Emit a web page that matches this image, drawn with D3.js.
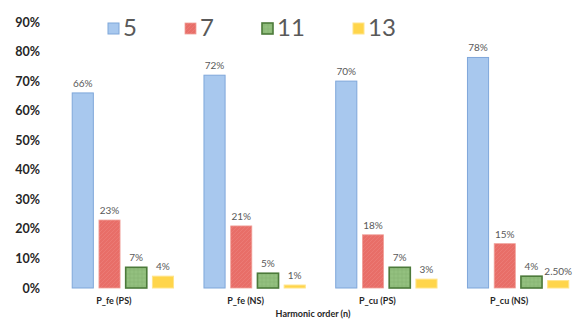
<!DOCTYPE html>
<html>
<head>
<meta charset="utf-8">
<script src="https://cdn.jsdelivr.net/npm/d3@7"></script>
<style>
  html, body { margin: 0; padding: 0; background: #fff; }
  svg { display: block; }
</style>
</head>
<body>
<svg id="chart" width="576" height="320"></svg>
<script>
// Harmonic share per loss component
const categories = ["P_fe (PS)", "P_fe (NS)", "P_cu (PS)", "P_cu (NS)"];
const seriesNames = ["5", "7", "11", "13"];
const h5  = [0.66, 0.72, 0.70, 0.78];
const h7  = [0.23, 0.21, 0.18, 0.15];
const h11 = [0.07, 0.05, 0.07, 0.04];
const h13 = [0.04, 0.01, 0.03, 0.025];
const valueLabels = [
  ["66%", "72%", "70%", "78%"],
  ["23%", "21%", "18%", "15%"],
  ["7%", "5%", "7%", "4%"],
  ["4%", "1%", "3%", "2.50%"]
];
const yTicks = [0, 0.1, 0.2, 0.3, 0.4, 0.5, 0.6, 0.7, 0.8, 0.9];
const xTitle = "Harmonic order (n)";

const seriesValues = [h5, h7, h11, h13];

const svg = d3.select("#chart");

// Fill patterns for the textured series
const defs = svg.append("defs");
const red = defs.append("pattern").attr("id", "pat7")
  .attr("patternUnits", "userSpaceOnUse").attr("width", 4).attr("height", 4);
red.append("rect").attr("width", 4).attr("height", 4).attr("fill", "#e86e68");
red.append("path").attr("d", "M0,4 L4,0").attr("stroke", "#ec837d").attr("stroke-width", 0.6);

const green = defs.append("pattern").attr("id", "pat11")
  .attr("patternUnits", "userSpaceOnUse").attr("width", 4).attr("height", 4);
green.append("rect").attr("width", 4).attr("height", 4).attr("fill", "#93c07f");
green.append("path").attr("d", "M0,2 L4,2 M2,0 L2,4").attr("stroke", "#85b271").attr("stroke-width", 0.6);

const styles = [
  { fill: "#a8c8ee", stroke: "#7fa7da", sw: 1 },
  { fill: "url(#pat7)", stroke: "#f0a09a", sw: 0.8 },
  { fill: "url(#pat11)", stroke: "#4c7a3a", sw: 1.6 },
  { fill: "#ffd54a", stroke: "#ffe48a", sw: 1 }
];

const x0 = d3.scaleBand().domain(categories).range([57, 584])
  .paddingInner(0.231).paddingOuter(0.1155);
const x1 = d3.scaleBand().domain(seriesNames).range([0, x0.bandwidth()])
  .paddingInner(0.21).paddingOuter(0);
const y = d3.scaleLinear().domain([0, 0.9]).range([288, 22]);

// Y axis: labels only
const yAxis = svg.append("g").attr("transform", "translate(40,0)")
  .call(d3.axisLeft(y).tickValues(yTicks).tickFormat(d3.format(".0%")).tickSize(0).tickPadding(0));
yAxis.select(".domain").remove();
yAxis.selectAll("text")
  .attr("font-family", "Lato, 'Open Sans', sans-serif")
  .attr("font-weight", "bold").attr("font-size", 12.5).attr("fill", "#262626");

// Bars
const groups = svg.append("g").selectAll("g")
  .data(seriesNames).join("g");
groups.each(function (name, si) {
  const g = d3.select(this);
  const data = categories.map((c, ci) => ({ c, v: seriesValues[si][ci], label: valueLabels[si][ci] }));
  g.selectAll("rect").data(data).join("rect")
    .attr("x", d => x0(d.c) + x1(name))
    .attr("y", d => y(d.v))
    .attr("width", x1.bandwidth())
    .attr("height", d => y(0) - y(d.v))
    .attr("fill", styles[si].fill)
    .attr("stroke", styles[si].stroke)
    .attr("stroke-width", styles[si].sw);
  g.selectAll("text").data(data).join("text")
    .attr("x", d => x0(d.c) + x1(name) + x1.bandwidth() / 2)
    .attr("y", d => y(d.v) - 6)
    .attr("text-anchor", "middle")
    .attr("font-family", "Lato, 'Open Sans', sans-serif")
    .attr("font-size", 10).attr("fill", "#595959")
    .text(d => d.label);
});

// Category axis
const xAxis = svg.append("g").attr("transform", "translate(0,288)")
  .call(d3.axisBottom(x0).tickSize(0).tickPadding(10));
xAxis.select(".domain").remove();
xAxis.selectAll("text")
  .attr("dx", -9)
  .attr("font-family", "Lato, 'Open Sans', sans-serif")
  .attr("font-weight", "bold").attr("font-size", 9).attr("fill", "#262626");

svg.append("text")
  .attr("x", 313).attr("y", 317)
  .attr("text-anchor", "middle")
  .attr("font-family", "Lato, 'Open Sans', sans-serif")
  .attr("font-weight", "bold").attr("font-size", 9).attr("fill", "#262626")
  .text(xTitle);

// Legend
const legendX = [108, 185, 262, 353];
const legend = svg.append("g").selectAll("g").data(seriesNames).join("g")
  .attr("transform", (d, i) => `translate(${legendX[i]},23)`);
legend.append("rect")
  .attr("width", 11).attr("height", 11)
  .attr("fill", (d, i) => styles[i].fill)
  .attr("stroke", (d, i) => styles[i].stroke)
  .attr("stroke-width", (d, i) => styles[i].sw);
legend.append("text")
  .attr("x", 15).attr("y", 13)
  .attr("font-family", "Lato, 'Open Sans', sans-serif")
  .attr("font-size", 24).attr("fill", "#595959")
  .text(d => d);
</script>
</body>
</html>
